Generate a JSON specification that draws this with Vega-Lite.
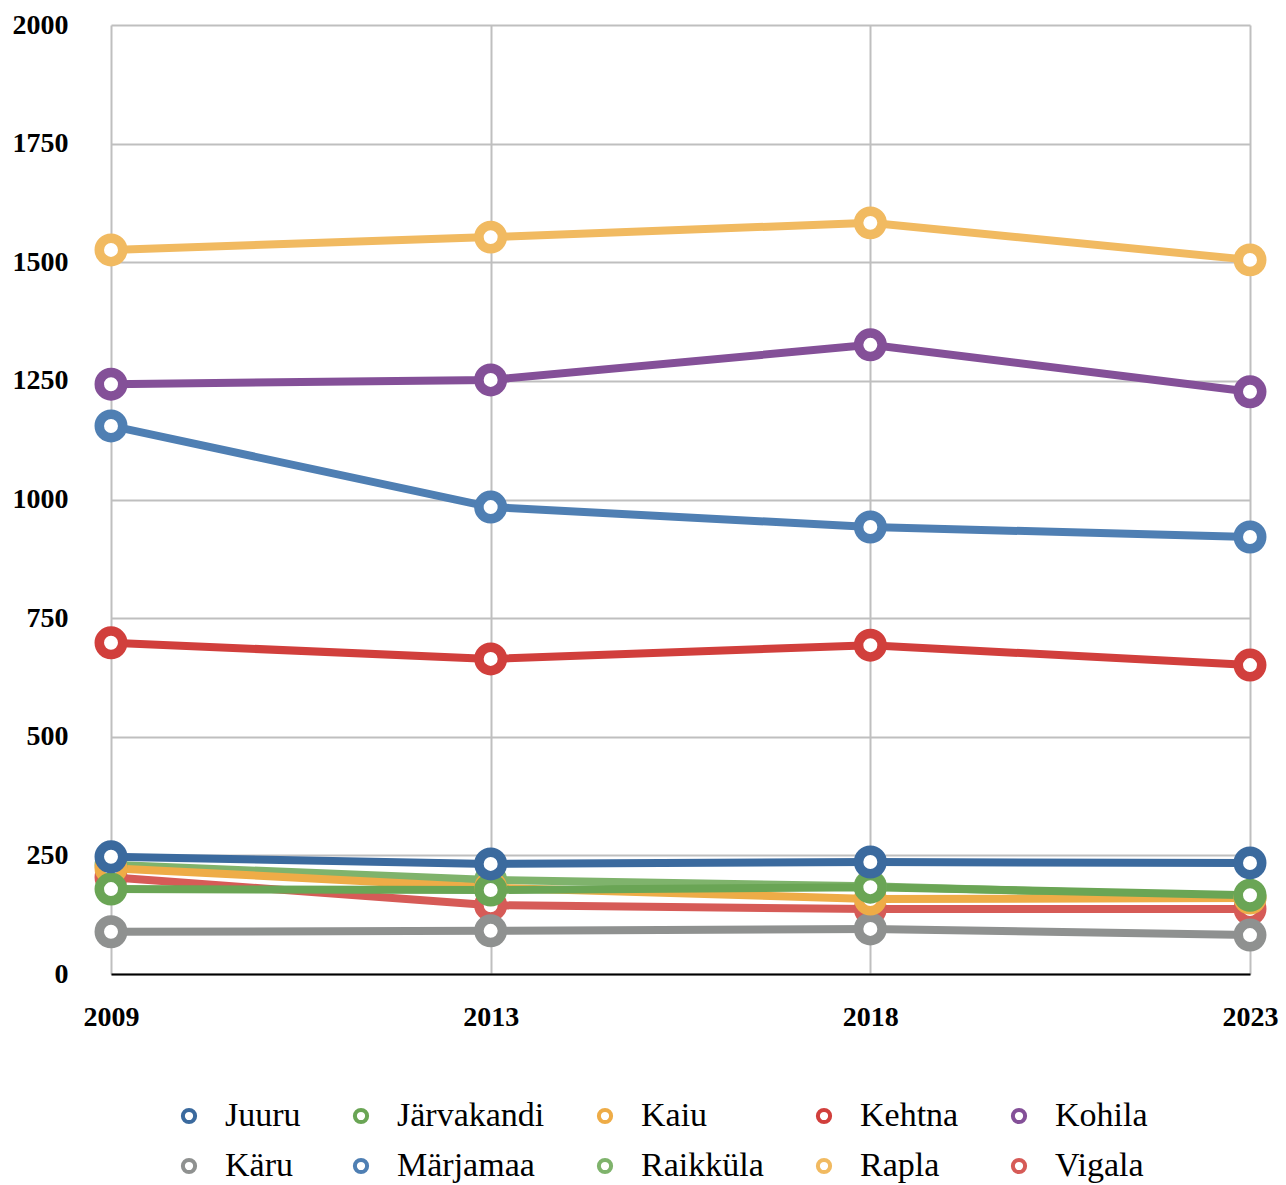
{
  "$schema": "https://vega.github.io/schema/vega-lite/v6.json",
  "autosize": {"type": "none"},
  "width": 1139,
  "height": 949,
  "padding": {"left": 111, "top": 25, "right": 36, "bottom": 211},
  "background": "white",
  "config": {
    "view": {"stroke": null},
    "font": "Liberation Serif"
  },
  "data": {
    "values": [
      {"series": "Vigala", "year": "2009", "value": 204},
      {"series": "Vigala", "year": "2013", "value": 145},
      {"series": "Vigala", "year": "2018", "value": 137},
      {"series": "Vigala", "year": "2023", "value": 137},
      {"series": "Rapla", "year": "2009", "value": 1526},
      {"series": "Rapla", "year": "2013", "value": 1553},
      {"series": "Rapla", "year": "2018", "value": 1583},
      {"series": "Rapla", "year": "2023", "value": 1505},
      {"series": "Raikküla", "year": "2009", "value": 230},
      {"series": "Raikküla", "year": "2013", "value": 198},
      {"series": "Raikküla", "year": "2018", "value": 185},
      {"series": "Raikküla", "year": "2023", "value": 162},
      {"series": "Märjamaa", "year": "2009", "value": 1155},
      {"series": "Märjamaa", "year": "2013", "value": 984},
      {"series": "Märjamaa", "year": "2018", "value": 942},
      {"series": "Märjamaa", "year": "2023", "value": 921},
      {"series": "Käru", "year": "2009", "value": 89},
      {"series": "Käru", "year": "2013", "value": 91},
      {"series": "Käru", "year": "2018", "value": 95},
      {"series": "Käru", "year": "2023", "value": 82},
      {"series": "Kohila", "year": "2009", "value": 1243},
      {"series": "Kohila", "year": "2013", "value": 1252},
      {"series": "Kohila", "year": "2018", "value": 1326},
      {"series": "Kohila", "year": "2023", "value": 1227},
      {"series": "Kehtna", "year": "2009", "value": 698},
      {"series": "Kehtna", "year": "2013", "value": 664},
      {"series": "Kehtna", "year": "2018", "value": 693},
      {"series": "Kehtna", "year": "2023", "value": 651},
      {"series": "Kaiu", "year": "2009", "value": 223},
      {"series": "Kaiu", "year": "2013", "value": 182},
      {"series": "Kaiu", "year": "2018", "value": 158},
      {"series": "Kaiu", "year": "2023", "value": 160},
      {"series": "Järvakandi", "year": "2009", "value": 179},
      {"series": "Järvakandi", "year": "2013", "value": 177},
      {"series": "Järvakandi", "year": "2018", "value": 183},
      {"series": "Järvakandi", "year": "2023", "value": 166},
      {"series": "Juuru", "year": "2009", "value": 247},
      {"series": "Juuru", "year": "2013", "value": 232},
      {"series": "Juuru", "year": "2018", "value": 236},
      {"series": "Juuru", "year": "2023", "value": 234}
    ]
  },
  "encoding": {
    "x": {
      "field": "year",
      "type": "ordinal",
      "sort": null,
      "scale": {"type": "point", "padding": 0, "domain": ["2009", "2013", "2018", "2023"]},
      "axis": {
        "title": null,
        "labelAngle": 0,
        "labelFont": "Liberation Serif",
        "labelFontWeight": "bold",
        "labelFontSize": 28,
        "labelColor": "black",
        "labelPadding": 29,
        "ticks": false,
        "domain": true,
        "domainColor": "black",
        "domainWidth": 2,
        "grid": true,
        "gridColor": "#BFBFBF",
        "gridWidth": 2,
        "zindex": 0
      }
    },
    "y": {
      "field": "value",
      "type": "quantitative",
      "scale": {"domain": [0, 2000], "nice": false, "zero": true},
      "axis": {
        "title": null,
        "format": "d",
        "values": [0, 250, 500, 750, 1000, 1250, 1500, 1750, 2000],
        "labelFont": "Liberation Serif",
        "labelFontWeight": "bold",
        "labelFontSize": 28,
        "labelColor": "black",
        "labelPadding": 43,
        "ticks": false,
        "domain": false,
        "grid": true,
        "gridColor": "#BFBFBF",
        "gridWidth": 2,
        "zindex": 0
      }
    },
    "color": {
      "field": "series",
      "type": "nominal",
      "scale": {
        "domain": ["Juuru", "Järvakandi", "Kaiu", "Kehtna", "Kohila", "Käru", "Märjamaa", "Raikküla", "Rapla", "Vigala"],
        "range": ["#3B6A9E", "#6AA555", "#EEAC47", "#D13F3C", "#845098", "#8F9190", "#4F7FB3", "#7FB36C", "#F1BA61", "#D65B57"]
      },
      "legend": {
        "title": null,
        "orient": "none",
        "legendX": 61,
        "legendY": 1074,
        "direction": "horizontal",
        "columns": 5,
        "padding": 0,
        "columnPadding": 43,
        "rowPadding": 16,
        "symbolType": "circle",
        "symbolSize": 150,
        "symbolStrokeWidth": 4,
        "symbolFillColor": "white",
        "labelFont": "Liberation Serif",
        "labelFontSize": 34,
        "labelColor": "black",
        "labelOffset": 19,
        "labelLimit": 400
      }
    }
  },
  "layer": [
    {
      "mark": {"type": "line", "strokeWidth": 8, "opacity": 1}
    },
    {
      "mark": {"type": "point", "filled": false, "fill": "white", "size": 550, "strokeWidth": 9.5, "opacity": 1}
    }
  ]
}
